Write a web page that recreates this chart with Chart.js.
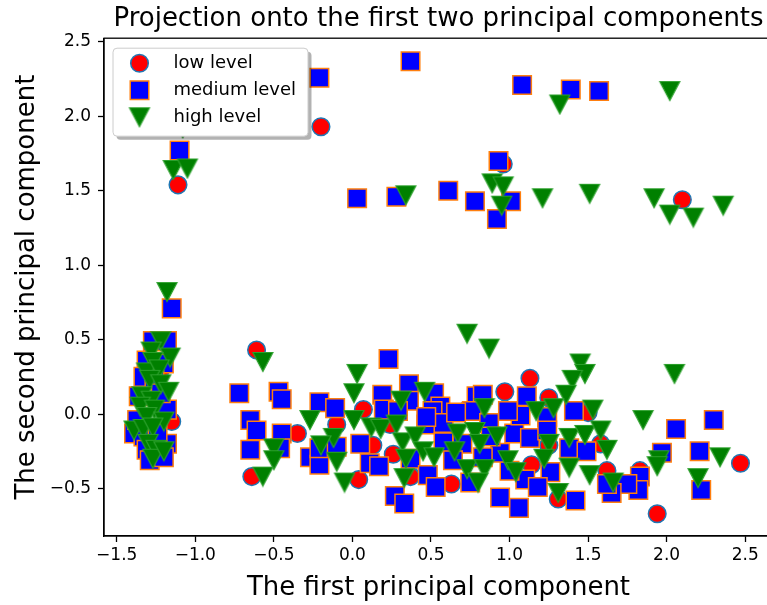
<!DOCTYPE html>
<html lang="en">
<head>
<meta charset="UTF-8">
<title>Projection onto the first two principal components</title>
<script src="https://cdn.jsdelivr.net/npm/chart.js@4"></script>
<style>
    html, body { margin: 0; padding: 0; overflow: hidden; background: #fff; }
    #pcaChart { display: block; }
</style>
</head>
<body>
<!-- canvas is a bit wider than the window: the right edge of the axes is cut off like in the original figure -->
<canvas id="pcaChart" width="773" height="605"></canvas>
<script>
// Tick values
const xTicks = [-1.5, -1.0, -0.5, 0.0, 0.5, 1.0, 1.5, 2.0, 2.5];
const yTicks = [-0.5, 0.0, 0.5, 1.0, 1.5, 2.0, 2.5];

// low level (red circles)
const lowX = [-0.20, -1.11, 0.96, 2.10,
    -0.61, -0.35, -0.64, 0.07, -0.10, 0.04, 0.13, 0.26, 0.24, 0.36,
    1.13, 0.97, 1.25, 0.79, 0.72, 1.50, 0.58, 1.14, 0.63, 0.37, 1.25, 1.31,
    2.47, 1.94, 1.62, 1.83, 1.58,
    -1.15, -1.25, -1.30, -1.22];
const lowY = [1.93, 1.54, 1.68, 1.44,
    0.43, -0.13, -0.42, 0.03, -0.07, -0.44, -0.21, -0.27, -0.07, -0.40,
    0.24, 0.15, 0.11, 0.06, 0.02, 0.01, -0.11, -0.34, -0.47, -0.42, -0.21, -0.57,
    -0.33, -0.67, -0.38, -0.38, -0.20,
    -0.05, 0.10, -0.20, 0.30];

// medium level (blue squares)
const medX = [-0.21, -1.10, 0.37, 1.08, 1.39, 1.57, 0.93, 1.01, 0.92, 0.03, 0.28, 0.61, 0.78,
    -1.15,
    -1.27, -1.18, -1.20, -1.31, -1.33, -1.26, -1.36, -1.18, -1.39, -1.33, -1.18, -1.31, -1.29, -1.20, -1.24, -1.37, -1.22,
    0.23, -0.72, -0.47, -0.45, -0.65, -0.61, -0.45, -0.65, -0.46, -0.21, -0.11, -0.27, -0.21, -0.21, -0.10, 0.05, 0.19, 0.20, 0.36, 0.36, 0.11, 0.17, 0.27, 0.33, 0.37, 0.29,
    0.52, 0.56, 0.51, 0.47, 0.58, 0.58, 0.48, 0.53, 0.70, 0.79, 0.83, 0.76, 0.87, 1.03, 1.07, 0.99, 1.11, 1.13, 1.24, 1.41,
    1.24, 1.38, 1.49, 1.26, 1.42, 1.10, 1.06, 0.94, 1.00, 0.94, 0.83, 0.75, 0.64, 0.88, 1.18, 0.47, 0.66,
    2.06, 2.30, 1.97, 2.21, 2.22, 1.83, 1.82, 1.75, 1.65, 1.62];
const medY = [2.26, 1.77, 2.37, 2.21, 2.18, 2.17, 1.70, 1.43, 1.31, 1.45, 1.46, 1.50, 1.43,
    0.71,
    0.49, 0.49, 0.34, 0.36, 0.25, 0.23, 0.12, 0.03, -0.13, -0.15, -0.20, -0.24, -0.31, -0.29, -0.13, -0.04, 0.14,
    0.37, 0.14, 0.15, 0.10, -0.04, -0.11, -0.13, -0.24, -0.23, 0.08, 0.04, -0.29, -0.34, -0.23, -0.22, -0.20, 0.13, 0.03, 0.20, 0.09, -0.33, -0.35, -0.55, -0.60, -0.30, 0.02,
    0.14, 0.05, 0.02, -0.07, -0.06, -0.19, -0.41, -0.49, -0.20, 0.12, 0.13, 0.02, -0.06, -0.13, -0.01, 0.02, 0.12, -0.16, -0.02, 0.02,
    -0.11, -0.23, -0.25, -0.39, -0.58, -0.44, -0.63, -0.56, -0.38, -0.26, -0.29, -0.46, -0.31, -0.15, -0.49, -0.02, 0.01,
    -0.10, -0.04, -0.26, -0.25, -0.51, -0.42, -0.51, -0.47, -0.53, -0.47];

// high level (green down triangles)
const highX = [1.32, 2.02, 0.89, 0.96, 0.95, 0.34, 1.21, 1.51, 1.92, 2.02, 2.17, 2.36, -1.14, -1.05, -1.08,
    -1.18,
    -1.22, -1.28, -1.16, -1.27, -1.31, -1.23, -1.29, -1.22, -1.17, -1.34, -1.28, -1.35, -1.26, -1.31, -1.20, -1.39, -1.33, -1.27, -1.30, -1.25, -1.27, -1.20,
    -0.57, 0.03, 0.01, -0.27, 0.01, 0.12, 0.18, 0.28, 0.31, -0.12, -0.20, -0.50, -0.50, -0.57, -0.10, -0.05, 0.32, 0.34, 0.33, 0.40,
    0.73, 0.87, 1.45, 1.48, 1.40, 1.36, 0.46, 0.84, 1.17, 1.28, 1.53, 0.67, 0.78, 0.92, 0.81, 0.65, 0.45, 0.52, 1.25, 1.38,
    1.48, 1.22, 1.38, 1.51, 0.73, 0.84, 0.80, 0.99, 1.04, 1.31,
    2.05, 1.85, 1.58, 1.62, 1.95, 1.94, 1.66, 2.20, 2.34];
const highY = [2.08, 2.17, 1.55, 1.53, 1.40, 1.47, 1.45, 1.48, 1.45, 1.34, 1.32, 1.40, 1.64, 1.65, 1.92,
    0.82,
    0.49, 0.42, 0.38, 0.35, 0.28, 0.30, 0.23, 0.20, 0.15, 0.12, 0.09, 0.05, 0.03, -0.02, -0.05, -0.11, -0.10, -0.09, -0.20, -0.24, -0.30, -0.25,
    0.35, 0.27, 0.14, -0.04, -0.04, -0.09, -0.10, -0.07, 0.09, -0.16, -0.21, -0.23, -0.31, -0.42, -0.32, -0.46, -0.19, -0.30, -0.43, -0.15,
    0.54, 0.44, 0.34, 0.27, 0.23, 0.13, 0.15, 0.04, 0.02, 0.04, 0.03, -0.13, -0.12, -0.15, -0.20, -0.25, -0.25, -0.29, -0.20, -0.16,
    -0.14, -0.30, -0.36, -0.41, -0.37, -0.37, -0.46, -0.31, -0.39, -0.53,
    0.27, -0.04, -0.11, -0.24, -0.31, -0.35, -0.46, -0.43, -0.29];

Chart.defaults.font.family = "'DejaVu Sans', sans-serif";
Chart.defaults.color = '#000';

function toPoints(xs, ys) {
    return xs.map((x, i) => ({ x: x, y: ys[i] }));
}

// matplotlib-like tick label: one decimal, real minus sign
function fmtTick(value) {
    return Number(value).toFixed(1).replace('-', '\u2212');
}

// 'v' marker of matplotlib: triangle as wide as it is tall
function makeTriangleDown(fill, edge) {
    const c = document.createElement('canvas');
    c.width = 24;
    c.height = 22;
    const g = c.getContext('2d');
    g.beginPath();
    g.moveTo(2, 1.5);
    g.lineTo(22, 1.5);
    g.lineTo(12, 20.5);
    g.closePath();
    g.fillStyle = fill;
    g.fill();
    g.lineWidth = 1.2;
    g.strokeStyle = edge;
    g.stroke();
    return c;
}
const triangleImg = makeTriangleDown('#008000', '#2ca02c');

// frame around the axes (spines sit on top of the markers)
const framePlugin = {
    id: 'axesFrame',
    afterDatasetsDraw(chart) {
        const a = chart.chartArea;
        const ctx = chart.ctx;
        ctx.save();
        ctx.strokeStyle = '#000';
        ctx.lineWidth = 1.3;
        ctx.strokeRect(a.left, a.top, a.right - a.left, a.bottom - a.top);
        ctx.restore();
    }
};

// legend box drawn inside the axes, above the markers
const legendPlugin = {
    id: 'insideLegend',
    afterDraw(chart) {
        const ctx = chart.ctx;
        const a = chart.chartArea;
        const box = { x: a.left + 9, y: a.top + 10, w: 195, h: 88 };
        ctx.save();
        // shadow
        ctx.fillStyle = 'rgba(0,0,0,0.3)';
        ctx.beginPath();
        ctx.roundRect(box.x + 3.5, box.y + 3.5, box.w, box.h, 4);
        ctx.fill();
        // frame
        ctx.fillStyle = '#fff';
        ctx.strokeStyle = '#cccccc';
        ctx.lineWidth = 1;
        ctx.beginPath();
        ctx.roundRect(box.x, box.y, box.w, box.h, 4);
        ctx.fill();
        ctx.stroke();

        chart.data.datasets.forEach((ds, i) => {
            const cy = box.y + 15 + i * 27;
            const cx = box.x + 26.5;
            ctx.lineWidth = ds.pointBorderWidth || 1.5;
            ctx.fillStyle = ds.pointBackgroundColor;
            ctx.strokeStyle = ds.pointBorderColor;
            if (ds.pointStyle === 'circle') {
                ctx.beginPath();
                ctx.arc(cx, cy, ds.pointRadius, 0, Math.PI * 2);
                ctx.fill();
                ctx.stroke();
            } else if (ds.pointStyle === 'rect') {
                const s = ds.pointRadius * Math.SQRT1_2;
                ctx.beginPath();
                ctx.rect(cx - s, cy - s, 2 * s, 2 * s);
                ctx.fill();
                ctx.stroke();
            } else {
                const img = ds.pointStyle;
                ctx.drawImage(img, cx - img.width / 2, cy - img.height / 2);
            }
            ctx.fillStyle = '#000';
            ctx.font = "18px 'DejaVu Sans'";
            ctx.textBaseline = 'middle';
            ctx.textAlign = 'left';
            ctx.fillText(ds.label, box.x + 60.5, cy);
        });
        ctx.restore();
    }
};

const tickGrid = {
    display: true,
    drawOnChartArea: false,
    drawTicks: true,
    tickLength: 6,
    tickColor: '#000',
    tickWidth: 1.3
};

const chart = new Chart(document.getElementById('pcaChart'), {
    type: 'scatter',
    data: {
        datasets: [
            {
                label: 'low level',
                data: toPoints(lowX, lowY),
                pointStyle: 'circle',
                pointRadius: 8.8,
                pointBackgroundColor: '#ff0000',
                pointBorderColor: '#1f77b4',
                pointBorderWidth: 1.5,
                order: 3
            },
            {
                label: 'medium level',
                data: toPoints(medX, medY),
                pointStyle: 'rect',
                pointRadius: 13.1,
                pointBackgroundColor: '#0000ff',
                pointBorderColor: '#ff7f0e',
                pointBorderWidth: 1.5,
                order: 2
            },
            {
                label: 'high level',
                data: toPoints(highX, highY),
                pointStyle: triangleImg,
                pointRadius: 10,
                pointBackgroundColor: '#008000',
                pointBorderColor: '#2ca02c',
                pointBorderWidth: 1.2,
                order: 1
            }
        ]
    },
    options: {
        responsive: false,
        animation: false,
        // big markers would otherwise push the axes in from the right edge
        layout: { padding: 0, autoPadding: false },
        plugins: {
            legend: { display: false },
            tooltip: { enabled: false },
            title: {
                display: true,
                text: 'Projection onto the first two principal components',
                fullSize: false,
                color: '#000',
                font: { size: 26, weight: 'normal' },
                padding: { top: 4, bottom: 3 }
            }
        },
        scales: {
            x: {
                type: 'linear',
                position: 'bottom',
                min: -1.581,
                max: 2.677,
                afterBuildTicks: scale => { scale.ticks = xTicks.map(v => ({ value: v })); },
                afterFit: scale => {
                    scale.height = 69;
                    scale.paddingLeft = 0;
                    scale.paddingRight = 0;
                },
                ticks: { color: '#000', font: { size: 17 }, padding: 3, maxRotation: 0, autoSkip: false, callback: fmtTick },
                grid: tickGrid,
                border: { display: true, color: '#000', width: 1.3 },
                title: {
                    display: true,
                    text: 'The first principal component',
                    color: '#000',
                    font: { size: 26 },
                    padding: { top: 0, bottom: 1 }
                }
            },
            y: {
                type: 'linear',
                position: 'left',
                min: -0.819,
                max: 2.525,
                afterBuildTicks: scale => { scale.ticks = yTicks.map(v => ({ value: v })); },
                afterFit: scale => {
                    scale.width = 104;
                    scale.paddingTop = 0;
                    scale.paddingBottom = 0;
                },
                ticks: { color: '#000', font: { size: 17 }, padding: 7, autoSkip: false, callback: fmtTick },
                grid: tickGrid,
                border: { display: true, color: '#000', width: 1.3 },
                title: {
                    display: true,
                    text: 'The second principal component',
                    color: '#000',
                    font: { size: 26 },
                    padding: { top: 12, bottom: 0 }
                }
            }
        }
    },
    plugins: [framePlugin, legendPlugin]
});
</script>
</body>
</html>
